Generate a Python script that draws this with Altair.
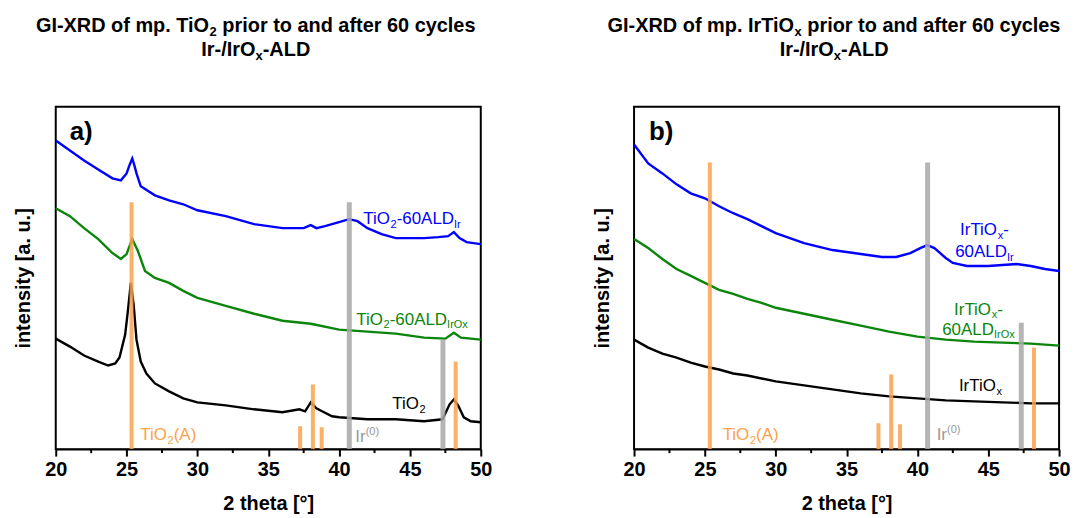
import altair as alt
import pandas as pd

FONT = "Liberation Sans"
W, H = 427, 344
PX_PER_DEG = W / 30.0

# ---------------- data: panel a (mp. TiO2) ----------------
a_blue_theta = [20, 21, 22, 23, 24, 24.6, 25.0, 25.2, 25.4, 25.55, 25.7, 26.0, 27, 28, 29, 30, 32, 34, 36, 37.5, 38.0, 38.4, 39, 40, 40.7, 41.3, 42, 43, 44, 45, 46, 47, 47.7, 48.1, 48.5, 49, 50]
a_blue_int = [310, 300, 290, 281, 272, 270, 277, 285, 292, 285, 277, 264, 255, 250, 246, 240, 234, 226, 222, 222, 225, 222, 224, 228, 231, 229, 222, 216, 212, 212, 212, 213, 214, 218, 212, 208, 206]

a_green_theta = [20, 21, 22, 23, 24, 24.6, 25.0, 25.4, 25.8, 26.3, 27, 28, 29, 30, 32, 34, 36, 38, 40, 42, 44, 46, 47.5, 48.1, 48.6, 50]
a_green_int = [242, 234, 222, 211, 197, 191, 196, 211, 199, 179, 172, 167, 159, 152, 144, 136, 129, 126, 120, 118, 116, 112, 111, 117, 112, 110]

a_black_theta = [20, 21, 22, 23, 23.7, 24.2, 24.5, 24.9, 25.1, 25.3, 25.5, 25.7, 26.0, 26.4, 27, 28, 29, 30, 32, 34, 36, 37.2, 37.6, 38.0, 38.4, 38.8, 39.5, 40, 42, 44, 46, 47.3, 47.8, 48.1, 48.4, 48.8, 49.3, 50]
a_black_int = [111, 103, 94, 88, 84, 86, 92, 115, 140, 167, 145, 110, 88, 76, 66, 58, 51, 47, 44, 40, 37, 40, 38, 47, 41, 38, 33, 32, 30, 30, 28, 30, 45, 50, 44, 32, 28, 27]

# ---------------- data: panel b (mp. IrTiOx) ----------------
b_blue_theta = [20, 21, 22, 23, 24, 25, 26, 27, 28, 29, 30, 32, 34, 36, 37.5, 38.5, 39.5, 40.2, 40.7, 41.2, 42, 42.5, 43.5, 45, 46, 47, 48, 49, 50]
b_blue_int = [306, 287, 277, 266, 257, 252, 244, 237, 231, 224, 217, 207, 200, 196, 193, 193, 197, 202, 205, 202, 192, 187, 184, 184, 185, 186, 184, 181, 179]

b_green_theta = [20, 21, 22, 23, 24, 25, 26, 27, 28, 29, 30, 32, 34, 36, 38, 40, 42, 44, 46, 48, 50]
b_green_int = [211, 202, 191, 181, 174, 167, 160, 156, 151, 147, 142, 136, 130, 124, 118, 113, 110, 108, 107, 106, 104]

b_black_theta = [20, 21, 22, 23, 24, 25, 26, 27, 28, 30, 32, 34, 36, 38, 40, 42, 44, 46, 48, 50]
b_black_int = [110, 102, 96, 92, 87, 83, 80, 76, 74, 68, 64, 60, 56, 53, 51, 49, 48, 47, 46, 46]

# reference reflections
anatase_theta = [25.35, 37.25, 38.15, 38.77, 48.23]
a_anatase_int = [248, 23, 65, 22, 88]
b_anatase_int = [288, 26, 75, 25, 102]
ir_theta = [40.72, 47.33]
a_ir_int = [248, 110]
b_ir_int = [288, 127]

major_ticks = [20, 25, 30, 35, 40, 45, 50]
minor_ticks = [22.5, 27.5, 32.5, 37.5, 42.5, 47.5]

BLUE = "#0000ff"
GREEN = "#0b850b"
BLACK = "#000000"
ORANGE = "#fba24a"
GREY = "#a8a8a8"

REG = {'T': 611, 'i': 222, 'O': 778, '2': 556, '-': 333, '6': 556, '0': 556, 'A': 667, 'L': 556,
       'D': 722, 'I': 278, 'r': 333, 'x': 500, '(': 333, ')': 333, ' ': 278}
BOLD = {'G': 778, 'I': 278, '-': 333, 'X': 667, 'R': 722, 'D': 722, ' ': 278, 'o': 611, 'f': 333,
        'm': 889, 'p': 611, '.': 278, 'T': 611, 'i': 278, 'O': 778, '2': 556, 'r': 389, 't': 333,
        'a': 556, 'n': 611, 'd': 611, 'e': 556, '6': 556, '0': 556, 'c': 556, 'y': 556, 'l': 278,
        's': 556, '/': 278, 'x': 556, 'A': 722, 'L': 611, 'b': 611, ')': 333}


def seg_rows(segs, x_rel, base_rel, size, color, table, align="left"):
    widths = []
    for txt, kind in segs:
        s = size if kind == "n" else size * 0.65
        widths.append(sum(table.get(c, 556) for c in txt) / 1000.0 * s)
    total = sum(widths)
    x = x_rel - (total / 2.0 if align == "center" else 0.0)
    rows = []
    for (txt, kind), w in zip(segs, widths):
        s = size if kind == "n" else size * 0.65
        shift = 0.0 if kind == "n" else (0.22 * size if kind == "sub" else -0.42 * size)
        lead = len(txt) - len(txt.lstrip(" "))
        xs = x + lead * table[" "] / 1000.0 * s
        rows.append(dict(theta=20 + xs / PX_PER_DEG, inten=H - (base_rel + shift),
                         label=txt.strip(" "), fs=s, col=color))
        x += w
    return rows


xscale = alt.Scale(domain=[20, 50], nice=False, zero=False)
yscale = alt.Scale(domain=[0, H], nice=False, zero=False)
xaxis = alt.Axis(values=major_ticks, tickSize=7, tickWidth=2, tickColor=BLACK, domainWidth=2,
                 domainColor=BLACK, labelFontSize=20, labelFontWeight="bold", labelFont=FONT,
                 labelColor=BLACK, labelPadding=3, labelFlush=False, grid=False,
                 title="2 theta [°]", titleFontSize=20, titleFontWeight="bold", titleFont=FONT,
                 titleColor=BLACK, titlePadding=15, format="d")
yaxis = alt.Axis(title="intensity [a. u.]", labels=False, ticks=False, domain=False, grid=False,
                 titleFontSize=20, titleFontWeight="bold", titleFont=FONT, titleColor=BLACK,
                 titlePadding=22)

X_ENC = dict(scale=xscale, axis=xaxis)
Y_ENC = dict(scale=yscale, axis=yaxis)


def panel(curves, an_int, ir_int, notes, bold_notes):
    rows = []
    for name, th, it, col in curves:
        for t, v in zip(th, it):
            rows.append(dict(series=name, theta=t, inten=v, col=col))
    cdf = pd.DataFrame(rows)
    bars = [dict(theta=t, base=0, top=h, col=ORANGE, sw=4) for t, h in zip(anatase_theta, an_int)]
    bars += [dict(theta=t, base=0, top=h, col=GREY, sw=5) for t, h in zip(ir_theta, ir_int)]
    bdf = pd.DataFrame(bars)

    lines = alt.Chart(cdf).mark_line(strokeWidth=2.4).encode(
        x=alt.X("theta:Q", **X_ENC),
        y=alt.Y("inten:Q", **Y_ENC),
        color=alt.Color("col:N", scale=None),
        detail="series:N",
    )
    refl = alt.Chart(bdf).mark_rule(opacity=0.85).encode(
        x=alt.X("theta:Q", **X_ENC),
        y=alt.Y("base:Q", **Y_ENC),
        y2="top:Q",
        color=alt.Color("col:N", scale=None),
        size=alt.Size("sw:Q", scale=None),
    )
    minor = alt.Chart(pd.DataFrame({"theta": minor_ticks})).mark_rule(color=BLACK, strokeWidth=2).encode(
        x=alt.X("theta:Q", **X_ENC),
        y=alt.value(H),
        y2=alt.value(H + 4),
    )
    nrows = []
    for n in notes:
        nrows += seg_rows(n[0], n[1], n[2], n[3], n[4], REG, n[5])
    brows = []
    for n in bold_notes:
        brows += seg_rows(n[0], n[1], n[2], n[3], n[4], BOLD, n[5])
    txt = alt.Chart(pd.DataFrame(nrows)).mark_text(align="left", baseline="alphabetic", font=FONT).encode(
        x=alt.X("theta:Q", **X_ENC),
        y=alt.Y("inten:Q", **Y_ENC),
        text="label:N",
        size=alt.Size("fs:Q", scale=None),
        color=alt.Color("col:N", scale=None),
    )
    btxt = alt.Chart(pd.DataFrame(brows)).mark_text(align="left", baseline="alphabetic", font=FONT,
                                                   fontWeight="bold").encode(
        x=alt.X("theta:Q", **X_ENC),
        y=alt.Y("inten:Q", **Y_ENC),
        text="label:N",
        size=alt.Size("fs:Q", scale=None),
        color=alt.Color("col:N", scale=None),
    )
    return alt.layer(lines, refl, minor, txt, btxt).properties(width=W, height=H)


sub_ti = [("TiO", "n"), ("2", "sub")]
notes_a = [
    (sub_ti + [("-60ALD", "n"), ("Ir", "sub")], 309, 118, 17, BLUE, "left"),
    (sub_ti + [("-60ALD", "n"), ("IrOx", "sub")], 302, 219, 17, GREEN, "left"),
    (sub_ti, 338, 304, 17, BLACK, "left"),
    (sub_ti + [("(A)", "n")], 85, 335, 17, ORANGE, "left"),
    ([("Ir", "n"), ("(0)", "sup")], 301, 337, 17, "#999999", "left"),
]
notes_b = [
    ([("IrTiO", "n"), ("x", "sub"), ("-", "n")], 352, 129, 17, BLUE, "center"),
    ([("60ALD", "n"), ("Ir", "sub")], 352, 151, 17, BLUE, "center"),
    ([("IrTiO", "n"), ("x", "sub"), ("-", "n")], 346, 209, 17, GREEN, "center"),
    ([("60ALD", "n"), ("IrOx", "sub")], 346, 229, 17, GREEN, "center"),
    ([("IrTiO", "n"), ("x", "sub")], 348, 286, 17, BLACK, "center"),
    (sub_ti + [("(A)", "n")], 89, 335, 17, ORANGE, "left"),
    ([("Ir", "n"), ("(0)", "sup")], 304, 335, 17, "#999999", "left"),
]
line2 = [("Ir-/IrO", "n"), ("x", "sub"), ("-ALD", "n")]
bold_a = [
    ([("GI-XRD of mp. TiO", "n"), ("2", "sub"), (" prior to and after 60 cycles", "n")], 201, -75, 20, BLACK, "center"),
    (line2, 201, -51, 20, BLACK, "center"),
    ([("a)", "n")], 14, 33, 26, BLACK, "left"),
]
bold_b = [
    ([("GI-XRD of mp. IrTiO", "n"), ("x", "sub"), (" prior to and after 60 cycles", "n")], 201, -75, 20, BLACK, "center"),
    (line2, 201, -51, 20, BLACK, "center"),
    ([("b)", "n")], 15, 33, 26, BLACK, "left"),
]

pa = panel([("TiO2-60ALDIr", a_blue_theta, a_blue_int, BLUE),
            ("TiO2-60ALDIrOx", a_green_theta, a_green_int, GREEN),
            ("TiO2", a_black_theta, a_black_int, BLACK)], a_anatase_int, a_ir_int, notes_a, bold_a)
pb = panel([("IrTiOx-60ALDIr", b_blue_theta, b_blue_int, BLUE),
            ("IrTiOx-60ALDIrOx", b_green_theta, b_green_int, GREEN),
            ("IrTiOx", b_black_theta, b_black_int, BLACK)], b_anatase_int, b_ir_int, notes_b, bold_b)

chart = alt.hconcat(pa, pb, spacing=154, bounds="flush").properties(
    padding={"left": 13, "top": 14, "right": 5, "bottom": 5},
    background="white",
).configure_view(stroke=BLACK, strokeWidth=2)

chart.save("out.html", embed_options={"renderer": "svg", "actions": False})
